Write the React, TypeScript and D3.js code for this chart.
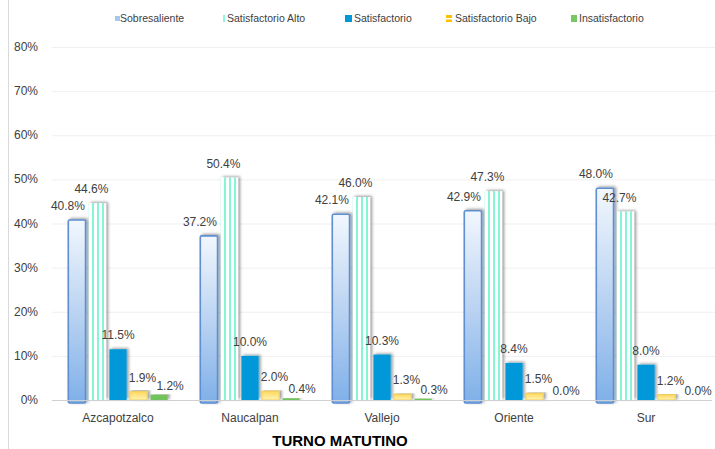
import * as d3 from "d3";

const categories = ["Azcapotzalco", "Naucalpan", "Vallejo", "Oriente", "Sur"];
const seriesNames = [
  "Sobresaliente",
  "Satisfactorio Alto",
  "Satisfactorio",
  "Satisfactorio Bajo",
  "Insatisfactorio",
];
const sobresaliente = [40.8, 37.2, 42.1, 42.9, 48.0];
const satisfactorioAlto = [44.6, 50.4, 46.0, 47.3, 42.7];
const satisfactorio = [11.5, 10.0, 10.3, 8.4, 8.0];
const satisfactorioBajo = [1.9, 2.0, 1.3, 1.5, 1.2];
const insatisfactorio = [1.2, 0.4, 0.3, 0.0, 0.0];
const yTicks = [0, 10, 20, 30, 40, 50, 60, 70, 80];

const seriesValues = [
  sobresaliente,
  satisfactorioAlto,
  satisfactorio,
  satisfactorioBajo,
  insatisfactorio,
];

const W = 715;
const H = 449;
const margin = { top: 47, left: 52, bottom: 49 };
const plotRight = 712;

const fills = [
  "url(#gradSob)",
  "url(#stripes)",
  "#0098d8",
  "url(#gradBajo)",
  "#72c35c",
];
const strokes = ["#5f8fd0", "none", "none", "#f2cf55", "none"];
// label offsets, roughly like the original
const labelDx = [-9, -6, 0, 4, 11];
const labelDy = [-10, -10, -10, -10, -5];

const App = () => {
  const x0 = d3
    .scaleBand<string>()
    .domain(categories)
    .range([margin.left, plotRight]);
  const x1 = d3
    .scaleBand<string>()
    .domain(seriesNames)
    .range([13, 119])
    .padding(0.16);
  const y = d3
    .scaleLinear()
    .domain([0, 80])
    .range([H - margin.bottom, margin.top]);

  const font = "'Liberation Sans', Arial, sans-serif";

  // legend items: marker x, text x
  const legend = [
    { mx: 115, tx: 120 },
    { mx: 222, tx: 227 },
    { mx: 345, tx: 354 },
    { mx: 446, tx: 455 },
    { mx: 571, tx: 579 },
  ];

  return (
    <svg
      width={W}
      height={H}
      style={{ position: "absolute", left: 0, top: 0, background: "#fff" }}
    >
      <defs>
        <linearGradient id="gradSob" x1="0" y1="0" x2="0" y2="1">
          <stop offset="0%" stopColor="#f2f7fd" />
          <stop offset="55%" stopColor="#b5d0f1" />
          <stop offset="100%" stopColor="#7fb0e8" />
        </linearGradient>
        <linearGradient id="gradBajo" x1="0" y1="0" x2="0" y2="1">
          <stop offset="0%" stopColor="#ffd85a" />
          <stop offset="100%" stopColor="#fff3b8" />
        </linearGradient>
        <pattern
          id="stripes"
          width="5"
          height="10"
          patternUnits="userSpaceOnUse"
        >
          <rect width="5" height="10" fill="#ffffff" />
          <rect x="0" width="2" height="10" fill="#86f5d5" />
        </pattern>
        <filter id="shadow" x="-50%" y="-10%" width="200%" height="130%">
          <feDropShadow
            dx="2"
            dy="-1"
            stdDeviation="1.5"
            floodColor="#000"
            floodOpacity="0.4"
          />
        </filter>
      </defs>

      {/* left frame line */}
      <line x1={8.5} x2={8.5} y1={0} y2={H} stroke="#d9d9d9" />

      {/* gridlines and y labels */}
      {yTicks.map((t) => (
        <g key={t}>
          {t > 0 && (
            <line
              x1={margin.left}
              x2={W}
              y1={y(t) + 0.5}
              y2={y(t) + 0.5}
              stroke="#efefef"
            />
          )}
          <text
            x={38}
            y={y(t) + 4}
            textAnchor="end"
            fontFamily={font}
            fontSize={12}
            fill="#404040"
          >
            {t}%
          </text>
        </g>
      ))}

      {/* bars */}
      {categories.map((c, ci) => (
        <g key={c} transform={`translate(${x0(c)},0)`}>
          {seriesNames.map((s, si) => {
            const v = seriesValues[si][ci];
            const bx = x1(s) as number;
            const bw = x1.bandwidth();
            const top = y(v);
            const h = y(0) - top;
            return (
              <g key={s}>
                {h > 0 && (
                  <rect
                    x={bx}
                    y={top}
                    width={bw}
                    height={h + (si === 0 ? 3 : 0)}
                    fill={fills[si]}
                    stroke={strokes[si]}
                    strokeWidth={si === 0 ? 1.6 : 1}
                    rx={si === 0 ? 1.5 : 0}
                    filter="url(#shadow)"
                  />
                )}
                <text
                  x={bx + bw / 2 + labelDx[si]}
                  y={top + labelDy[si]}
                  textAnchor="middle"
                  fontFamily={font}
                  fontSize={12}
                  fill="#404040"
                >
                  {v.toFixed(1)}%
                </text>
              </g>
            );
          })}
        </g>
      ))}

      {/* x axis */}
      <line
        x1={margin.left}
        x2={plotRight}
        y1={y(0) + 0.5}
        y2={y(0) + 0.5}
        stroke="#d0d0d0"
        strokeWidth={1.2}
      />
      {categories.map((c) => (
        <text
          key={c}
          x={(x0(c) as number) + 66}
          y={422}
          textAnchor="middle"
          fontFamily={font}
          fontSize={12}
          fill="#404040"
        >
          {c}
        </text>
      ))}

      <text
        x={340}
        y={446}
        textAnchor="middle"
        fontFamily={font}
        fontSize={15}
        fontWeight="bold"
        fill="#000"
      >
        TURNO MATUTINO
      </text>

      {/* legend */}
      {seriesNames.map((s, i) => (
        <g key={s}>
          {i === 0 && (
            <rect x={legend[i].mx} y={16} width={5} height={5} fill="#a6c8ee" />
          )}
          {i === 1 && (
            <rect x={legend[i].mx + 1} y={15} width={2} height={7} fill="#8ff7da" />
          )}
          {i === 2 && (
            <rect x={legend[i].mx} y={15} width={7} height={7} fill="#0098d8" />
          )}
          {i === 3 && (
            <g>
              <rect x={legend[i].mx} y={15} width={6} height={7} fill="#ffc000" />
              <rect x={legend[i].mx} y={18} width={6} height={1.5} fill="#fff" />
            </g>
          )}
          {i === 4 && (
            <rect x={legend[i].mx} y={15} width={6} height={7} fill="#77c862" />
          )}
          <text
            x={legend[i].tx}
            y={22}
            fontFamily={font}
            fontSize={10.5}
            fill="#404040"
          >
            {s}
          </text>
        </g>
      ))}
    </svg>
  );
};

export default App;
